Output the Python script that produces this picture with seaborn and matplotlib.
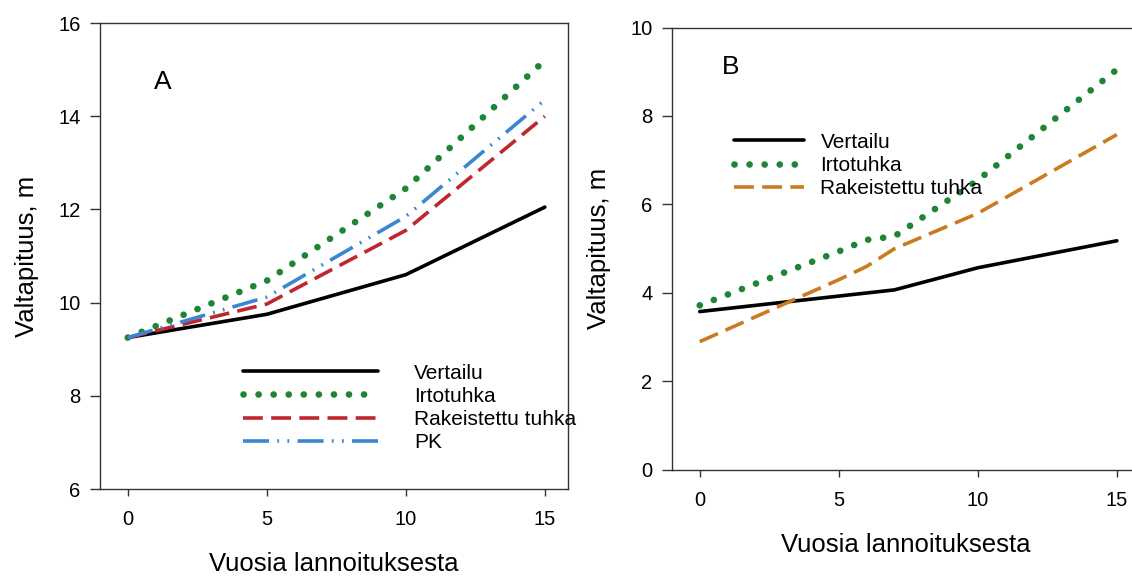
import pandas as pd
import seaborn as sns
import matplotlib.pyplot as plt

# Panel A data
years_a = [0, 5, 10, 15]
vertailu_a = [9.25, 9.75, 10.6, 12.05]
irtotuhka_a = [9.25, 10.47, 12.45, 15.2]
rakeistettu_a = [9.25, 9.97, 11.55, 14.0]
pk_a = [9.25, 10.12, 11.85, 14.35]

# Panel B data
years_b = [0, 5, 6, 7, 10, 15]
vertailu_b = [3.58, 3.93, 4.0, 4.07, 4.57, 5.18]
irtotuhka_b = [3.72, 4.94, 5.2, 5.28, 6.55, 9.05]
rakeistettu_b = [2.9, 4.3, 4.6, 5.0, 5.8, 7.58]

green = "#1e8535"
red = "#c0272d"
blue = "#3a86d2"
orange = "#cc7a22"

sns.set_theme(style="ticks")
plt.rcParams['font.family'] = ['Liberation Sans', 'DejaVu Sans']
plt.rcParams['axes.edgecolor'] = '#333333'
plt.rcParams['xtick.color'] = '#333333'
plt.rcParams['ytick.color'] = '#333333'
plt.rcParams['xtick.labelcolor'] = 'black'
plt.rcParams['ytick.labelcolor'] = 'black'
plt.rcParams['text.color'] = 'black'
plt.rcParams['axes.labelcolor'] = 'black'

fig = plt.figure(figsize=(11.32, 5.79), dpi=100)
ax_a = fig.add_axes([0.0883, 0.1554, 0.4134, 0.8048])
ax_b = fig.add_axes([0.5936, 0.1883, 0.4134, 0.7642])

styles = {
    "solid": dict(linestyle="-", lw=2.6),
    "dots": dict(linestyle=(0, (0.01, 2.25)), lw=4.8, dash_capstyle="round"),
    "dash": dict(linestyle=(0, (5.5, 2.3)), lw=2.6),
    "dashdotdot": dict(linestyle=(0, (7.2, 2.3, 0.5, 2.3, 0.5, 2.3)), lw=2.6),
}

sns.lineplot(x=years_a, y=vertailu_a, ax=ax_a, color="black", label="Vertailu", **styles["solid"])
sns.lineplot(x=years_a, y=irtotuhka_a, ax=ax_a, color=green, label="Irtotuhka", **styles["dots"])
sns.lineplot(x=years_a, y=rakeistettu_a, ax=ax_a, color=red, label="Rakeistettu tuhka", **styles["dash"])
sns.lineplot(x=years_a, y=pk_a, ax=ax_a, color=blue, label="PK", **styles["dashdotdot"])

sns.lineplot(x=years_b, y=vertailu_b, ax=ax_b, color="black", label="Vertailu", **styles["solid"])
sns.lineplot(x=years_b, y=irtotuhka_b, ax=ax_b, color=green, label="Irtotuhka", **styles["dots"])
sns.lineplot(x=years_b, y=rakeistettu_b, ax=ax_b, color=orange, label="Rakeistettu tuhka", **styles["dash"])

for ax, ylim, yticks in [(ax_a, (6, 16), range(6, 17, 2)), (ax_b, (0, 10), range(0, 11, 2))]:
    ax.set_xlim(-1.0, 15.83)
    ax.set_ylim(*ylim)
    ax.set_xticks([0, 5, 10, 15])
    ax.set_yticks(list(yticks))
    for s in ax.spines.values():
        s.set_visible(True)
        s.set_linewidth(1.0)
    ax.tick_params(axis="x", direction="out", length=5, width=1.0, labelsize=14.5, pad=10)
    ax.tick_params(axis="y", direction="out", length=7, width=1.0, labelsize=14.5, pad=7)
    ax.set_xlabel("Vuosia lannoituksesta", fontsize=18.5, labelpad=17)
    ax.set_ylabel("Valtapituus, m", fontsize=18.5, labelpad=14)

ax_a.text(0.135, 0.873, "A", transform=ax_a.transAxes, fontsize=19, ha="center", va="center")
ax_b.text(0.126, 0.91, "B", transform=ax_b.transAxes, fontsize=19, ha="center", va="center")

ax_a.legend(loc="upper left", bbox_to_anchor=(0.27, 0.305), frameon=False, fontsize=15,
            handlelength=6.5, handletextpad=1.7, labelspacing=0.2, borderpad=0.3)
ax_b.legend(loc="upper left", bbox_to_anchor=(0.096, 0.80), frameon=False, fontsize=15,
            handlelength=3.4, handletextpad=0.77, labelspacing=0.2, borderpad=0.3)

fig.savefig("out.png", dpi=100)
